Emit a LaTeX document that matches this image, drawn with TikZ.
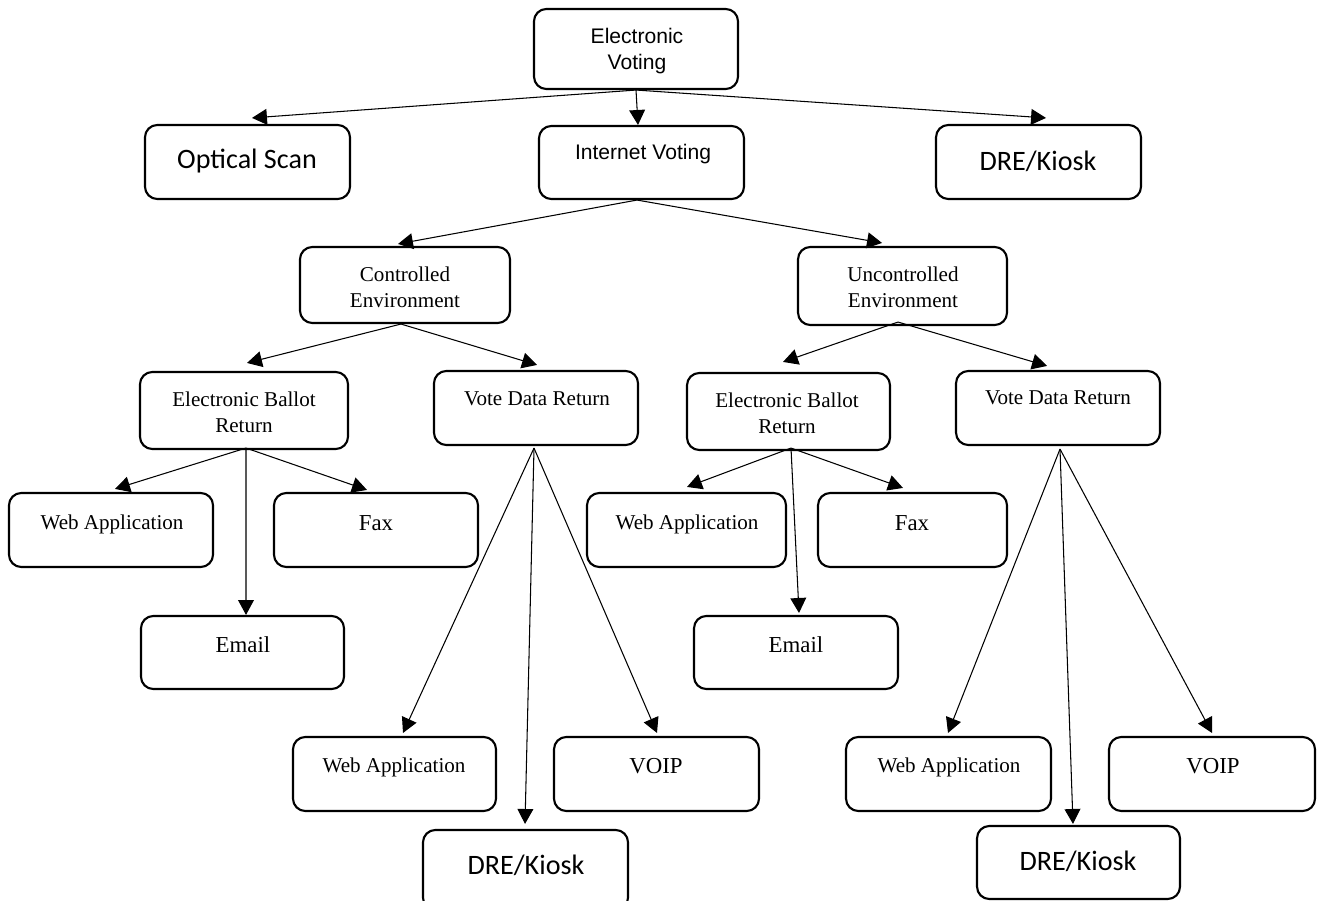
\documentclass[tikz,border=0pt]{standalone}
\usepackage{fontspec}
\setmainfont{Liberation Serif}
\newfontfamily\arialfam{Liberation Sans}
\newfontfamily\calfam{Carlito}
\usetikzlibrary{arrows.meta,calc,fit}
\begin{document}
\begin{tikzpicture}[x=0.02cm,y=-0.02cm,
  box/.style={draw,line width=1.2pt,rounded corners=7pt,inner sep=0pt,fit={#1}},
  tsans/.style={font=\arialfam\fontsize{12}{14.7}\selectfont,align=center,inner sep=0pt},
  tcal/.style={font=\calfam\fontsize{16}{19}\selectfont,align=center,inner sep=0pt},
  tser/.style={font=\fontsize{12}{14.7}\selectfont,align=center,inner sep=0pt},
  tserl/.style={font=\fontsize{13}{15.6}\selectfont,align=center,inner sep=0pt},
  arr/.style={-{Triangle[length=8.5pt,width=9pt]},line width=0.6pt}]
\useasboundingbox (0,0) rectangle (1317,901);
\clip (0,0) rectangle (1317,901);

% ---- boxes ----
\node[box={(534,9) (738,89)}]     (ev)    {};
\node[box={(145,125) (350,199)}]  (os)    {};
\node[box={(539,126) (744,199)}]  (iv)    {};
\node[box={(936,125) (1141,199)}] (dre1)  {};
\node[box={(300,247) (510,323)}]  (ce)    {};
\node[box={(798,247) (1007,325)}] (uce)   {};
\node[box={(140,372) (348,449)}]  (ebr1)  {};
\node[box={(434,371) (638,445)}]  (vdr1)  {};
\node[box={(687,373) (890,450)}]  (ebr2)  {};
\node[box={(956,371) (1160,445)}] (vdr2)  {};
\node[box={(9,493) (213,567)}]    (wa1)   {};
\node[box={(274,493) (478,567)}]  (fax1)  {};
\node[box={(141,616) (344,689)}]  (em1)   {};
\node[box={(587,493) (786,567)}]  (wa2)   {};
\node[box={(818,493) (1007,567)}] (fax2)  {};
\node[box={(694,616) (898,689)}]  (em2)   {};
\node[box={(293,737) (496,811)}]  (wa3)   {};
\node[box={(554,737) (759,811)}]  (voip1) {};
\node[box={(423,830) (628,910)}]  (dre2)  {};
\node[box={(846,737) (1051,811)}] (wa4)   {};
\node[box={(1109,737) (1315,811)}] (voip2) {};
\node[box={(977,826) (1180,899)}] (dre3)  {};

% ---- labels ----
\node[tsans] (evt)    at (637,51)   {Electronic\\Voting};
\node[tcal]  (ost)    at (247,161)  {Optical Scan};
\node[tsans] (ivt)    at (643,154)  {Internet Voting};
\node[tcal]  (dre1t)  at (1038,161) {DRE/Kiosk};
\node[tser]  (cet)    at (405,287)  {Controlled\\Environment};
\node[tser]  (ucet)   at (903,287)  {Uncontrolled\\Environment};
\node[tser]  (ebr1t)  at (244,412)  {Electronic Ballot\\Return};
\node[tser]  (vdr1t)  at (537,399)  {Vote Data Return};
\node[tser]  (ebr2t)  at (787,413)  {Electronic Ballot\\Return};
\node[tser]  (vdr2t)  at (1058,398) {Vote Data Return};
\node[tser]  (wa1t)   at (112,524)  {Web Application};
\node[tserl] (fax1t)  at (376,523)  {Fax};
\node[tserl] (em1t)   at (243,645)  {Email};
\node[tser]  (wa2t)   at (687,524)  {Web Application};
\node[tserl] (fax2t)  at (912,523)  {Fax};
\node[tserl] (em2t)   at (796,645)  {Email};
\node[tser]  (wa3t)   at (394,767)  {Web Application};
\node[tserl] (voip1t) at (656,766)  {VOIP};
\node[tcal]  (dre2t)  at (526,865)  {DRE/Kiosk};
\node[tser]  (wa4t)   at (949,767)  {Web Application};
\node[tserl] (voip2t) at (1213,766) {VOIP};
\node[tcal]  (dre3t)  at (1078,861) {DRE/Kiosk};

% ---- connectors ----
\draw[arr] (ev.south) -- ($(os.north)+(4.5,-6)$);
\draw[arr] (ev.south) -- ($(iv.north)+(-3.5,0)$);
\draw[arr] (ev.south) -- ($(dre1.north)+(7.5,-6)$);

\draw[arr] ($(iv.south)+(-4.5,0)$) -- ($(ce.north)+(-7,-2)$);
\draw[arr] ($(iv.south)+(-4.5,0)$) -- ($(uce.north)+(-20.5,-3)$);

\draw[arr] ($(ce.south)+(-4,0)$) -- ($(ebr1.north)+(3,-8)$);
\draw[arr] ($(ce.south)+(-4,0)$) -- ($(vdr1.north)+(1,-5)$);

\draw[arr] ($(uce.south)+(-4.5,-4)$) -- ($(ebr2.north)+(-5.5,-10)$);
\draw[arr] ($(uce.south)+(-4.5,-4)$) -- ($(vdr2.north)+(-11,-4)$);

\draw[arr] ($(ebr1.south)+(2,-2)$) -- ($(wa1.north)+(4,-3)$);
\draw[arr] ($(ebr1.south)+(2,-2)$) -- ($(em1.north)+(3.5,0)$);
\draw[arr] ($(ebr1.south)+(2,-2)$) -- ($(fax1.north)+(-9,-2)$);

\draw[arr] ($(ebr2.south)+(2.5,-3)$) -- ($(wa2.north)+(0.5,-5)$);
\draw[arr] ($(ebr2.south)+(2.5,-3)$) -- ($(em2.north)+(3,-2)$);
\draw[arr] ($(ebr2.south)+(2.5,-3)$) -- ($(fax2.north)+(-9.5,-4)$);

\draw[arr] ($(vdr1.south)+(-2,2)$) -- ($(wa3.north)+(8.5,-3)$);
\draw[arr] ($(vdr1.south)+(-2,2)$) -- ($(dre2.north)+(-0.5,-5)$);
\draw[arr] ($(vdr1.south)+(-2,2)$) -- ($(voip1.north)+(0.5,-3)$);

\draw[arr] ($(vdr2.south)+(2,3)$) -- ($(wa4.north)+(-0.5,-3)$);
\draw[arr] ($(vdr2.south)+(2,3)$) -- ($(dre3.north)+(-5.5,-1)$);
\draw[arr] ($(vdr2.south)+(2,3)$) -- ($(voip2.north)+(0,-3)$);
\end{tikzpicture}
\end{document}
